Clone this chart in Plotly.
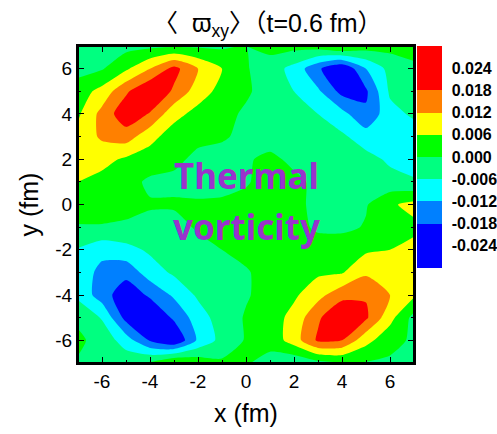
import plotly.graph_objects as go
import numpy as np

# grid coordinates (fm)
x_fm = [-7, -6, -5, -4, -3, -2, -1, 0, 1, 2, 3, 4, 5, 6, 7]
y_fm = [7, 6, 5, 4, 3, 2, 1, 0, -1, -2, -3, -4, -5, -6, -7]

# <omega_xy>, in units of 1e-3 (rows: y = 7 ... -7, cols: x = -7 ... 7)
omega_xy_1e3 = [
    [-2, -2, -2, -1.5, -1, -1, -1, 0, 2, 2, 3, 7, 3, 2, 2],
    [-2, -0.5, 5, 12, 20, 12, 6, 0.5, -3, -8, -17, -24, -12, -4, -1],
    [3, 8, 17, 24, 17, 9, 4, 1, -3, -6, -11, -20, -19, -5, -2],
    [5, 14, 22, 17.5, 8, 4, 2, -1, -2.5, -4.5, -6, -10, -17, -8, -5],
    [8, 13, 15, 8, 3, 1, 0.5, -1, -2, -3, -4.5, -5, -9, -12, -9],
    [9, 8, 5, 3, 1, -1, -1.5, -0.5, 1, -1, -3, -3, -4, -7, -8],
    [6, 4, 2, -1, -1, -1.5, -2, -0.5, 2, 1, -1, -2, -2, -4, -5.5],
    [3, 3, 2, 0.5, 0.5, 0.5, 1, 1.5, 2, 1, -1, -1.5, -0.5, 5, 8],
    [-0.5, -0.5, -1, -1.5, -1.5, 0.5, 2, 3, 3, 2, -1, -1.5, 0.5, 4, 4.5],
    [-6.5, -10, -8, -5, -3, -1.5, 0, 1.5, 3, 3, 3, 4, 5, 6, 8],
    [-8, -14, -16, -9, -5, -3, -1.5, -0.5, 2, 3.5, 5, 5.5, 11, 11, 9],
    [-7.5, -15, -22, -17, -11, -5, -2, -0.5, 2, 5, 10, 16, 17.5, 12, 7],
    [-1, -6.5, -20, -24, -17, -9, -3, 0.5, 3, 8, 17, 24, 19, 8, -2],
    [1, -2, -9, -18.5, -24, -11, -4, 0.5, 2, 9, 19, 18, 8, 2, -1],
    [-0.5, -1, -2, 1, 7, 4, 1, 0.5, -2, -5, -2, -0.5, -0.5, -1, -1],
]

levels = [-0.024, -0.018, -0.012, -0.006, 0.0, 0.006, 0.012, 0.018, 0.024]
level_labels = ["-0.024", "-0.018", "-0.012", "-0.006", "0.000", "0.006", "0.012", "0.018", "0.024"]
band_colors = ["#0000FF", "#0000FF", "#0080FF", "#00FFFF", "#00FF80",
               "#00FF00", "#FFFF00", "#FF8000", "#FF0000", "#FF0000"]

axis_tickvals = [-6, -4, -2, 0, 2, 4, 6]
axis_ticktext = ["-6", "-4", "-2", "0", "2", "4", "6"]
minor_tickvals = [-5, -3, -1, 1, 3, 5]

z = np.array(omega_xy_1e3) * 1e-3

n = len(band_colors)
colorscale = []
for i, c in enumerate(band_colors):
    colorscale.append([i / n, c])
    colorscale.append([(i + 1) / n, c])

step = levels[1] - levels[0]
zmin = levels[0] - step
zmax = levels[-1] + step

fig = go.Figure(go.Contour(
    x=x_fm, y=y_fm, z=z,
    colorscale=colorscale, zmin=zmin, zmax=zmax,
    contours=dict(start=levels[0], end=levels[-1], size=step,
                  coloring="fill", showlines=False),
    line=dict(width=0, smoothing=0.6),
    colorbar=dict(
        x=1.008, xanchor="left", xpad=0,
        y=1.0, yanchor="top", ypad=0,
        len=0.70, lenmode="fraction", thickness=25,
        outlinewidth=0,
        tickvals=levels, ticktext=level_labels,
        ticks="outside", ticklen=7, tickcolor="rgba(0,0,0,0)",
        tickfont=dict(family="Liberation Sans, Arial", size=16, color="black", weight="bold"),
    ),
))
# empty trace that carries the minor-tick axes
fig.add_trace(go.Scatter(x=[], y=[], xaxis="x2", yaxis="y2", showlegend=False, hoverinfo="skip"))

axis_common = dict(
    range=[-7, 7], tickmode="array", tickvals=axis_tickvals, ticktext=axis_ticktext,
    ticks="inside", ticklen=6, tickwidth=1.3, tickcolor="black",
    showline=True, linecolor="black", linewidth=2, mirror="ticks",
    layer="above traces",
    showgrid=False, zeroline=False, automargin=False,
    tickfont=dict(family="Liberation Sans, Arial", size=19, color="black"),
    title_font=dict(family="Liberation Sans, Arial", size=25, color="black"),
)
minor_common = dict(
    range=[-7, 7], tickmode="array", tickvals=minor_tickvals, showticklabels=False,
    ticks="inside", ticklen=3, tickwidth=1.3, tickcolor="black",
    showline=False, mirror="ticks", layer="above traces",
    showgrid=False, zeroline=False, automargin=False,
)

fig.update_layout(
    width=497, height=434,
    margin=dict(l=78, r=83, t=46, b=71, autoexpand=False),
    paper_bgcolor="white", plot_bgcolor="white",
    xaxis=dict(axis_common, title=dict(text="x (fm)", standoff=14)),
    yaxis=dict(axis_common, title=dict(text="y (fm)", standoff=10)),
    xaxis2=dict(minor_common, overlaying="x", anchor="y2"),
    yaxis2=dict(minor_common, overlaying="y", anchor="x2"),
    title=dict(text="〈  ϖ<sub>xy</sub>〉（t=0.6 fm）", x=0.565, xref="paper", xanchor="center",
               y=0.947, yref="container", yanchor="middle",
               font=dict(family="Liberation Sans, Noto Sans CJK SC", size=25, color="black")),
    showlegend=False,
)

# plot frame
fig.add_shape(type="rect", xref="paper", yref="paper", x0=0, y0=0, x1=1, y1=1,
              line=dict(color="black", width=2), fillcolor="rgba(0,0,0,0)", layer="above")

fig.add_annotation(text="<b>Thermal</b>", x=0, y=1.26, xref="x", yref="y",
                   showarrow=False, font=dict(family="Noto Sans, Open Sans", size=35, color="#9933CC"))
fig.add_annotation(text="<b>vorticity</b>", x=0, y=-0.95, xref="x", yref="y",
                   showarrow=False, font=dict(family="Noto Sans, Open Sans", size=35, color="#9933CC"))

fig.write_html("out.html", config={"displayModeBar": False},
               post_script="document.body.style.margin='0px';")
